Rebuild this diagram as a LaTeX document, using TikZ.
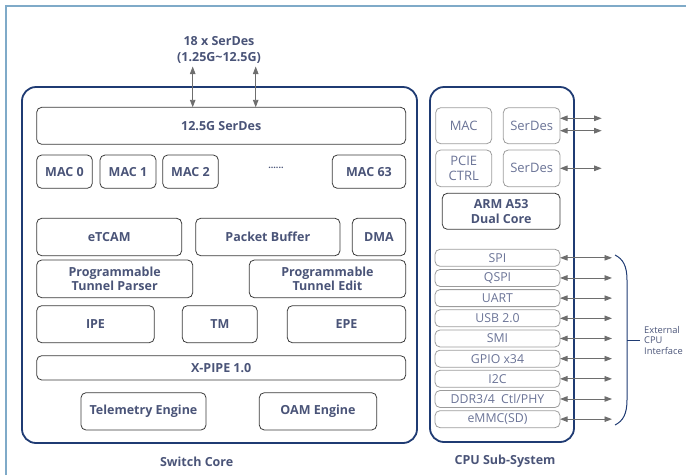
\documentclass[tikz,border=0pt]{standalone}
\usepackage{fontspec}
\setmainfont{Open Sans}
\usetikzlibrary{arrows.meta}
\definecolor{navy}{HTML}{1F3B73}
\definecolor{slate}{HTML}{4A5478}
\definecolor{lslate}{HTML}{6A7396}
\definecolor{dgrey}{HTML}{3A3A3A}
\definecolor{lgrey}{HTML}{9C9C9C}
\definecolor{agrey}{HTML}{6E6E6E}
\definecolor{frameblue}{HTML}{7FAAC8}
\tikzset{
  outerbox/.style={draw=navy, line width=1.8pt, rounded corners=14pt},
  sbox/.style={draw=dgrey, line width=0.8pt, rounded corners=5pt, inner sep=0pt, outer sep=0pt,
     anchor=north west, font=\fontsize{12.5}{14}\selectfont\bfseries, text=slate, align=center},
  cbox/.style={draw=lgrey, line width=0.8pt, rounded corners=5pt, inner sep=0pt, outer sep=0pt,
     anchor=north west, font=\fontsize{13}{14.5}\selectfont, text=lslate, align=center},
  ibox/.style={draw=lgrey, line width=0.8pt, rounded corners=5pt, inner sep=0pt, outer sep=0pt,
     anchor=north west, font=\fontsize{12.3}{13}\selectfont, text=lslate, minimum width=125pt, minimum height=17pt},
  armbox/.style={draw=dgrey, line width=0.8pt, rounded corners=5pt, inner sep=0pt, outer sep=0pt,
     anchor=north west, font=\fontsize{12.5}{14.5}\selectfont\bfseries, text=slate, align=center},
  conn/.style={draw=agrey, line width=0.9pt, {Triangle[length=7.5pt,width=5.5pt]}-{Triangle[length=7.5pt,width=5.5pt]}},
  lbl/.style={font=\fontsize{12.5}{16.5}\selectfont\bfseries, text=slate, align=center},
}
\begin{document}
\begin{tikzpicture}[x=1pt,y=-1pt]
\useasboundingbox (0,0) rectangle (686,475);
% light frame
\draw[frameblue, line width=1.2pt] (6,475) -- (6,6) -- (686,6);
% outer boxes
\draw[outerbox] (22,87) rectangle (417,443);
\draw[outerbox] (430,87) rectangle (574,442);
\node[lbl] (swlbl) at (196.7,461.7) {Switch Core};
\node[lbl] (cpulbl) at (505,461.7) {CPU Sub-System};
% switch core boxes
\node[sbox, minimum width=369pt, minimum height=37pt] (serdes) at (36.7,107.3) {12.5G SerDes};
\node[sbox, minimum width=55.6pt, minimum height=33.3pt] (mac0) at (36.7,155) {MAC 0};
\node[sbox, minimum width=56pt, minimum height=33.3pt] (mac1) at (100,155) {MAC 1};
\node[sbox, minimum width=55.6pt, minimum height=33.3pt] (mac2) at (162.7,155) {MAC 2};
\node[font=\fontsize{9}{10}\selectfont\bfseries, text=slate] (dots) at (276,168) {......};
\node[sbox, minimum width=73.4pt, minimum height=33.3pt] (mac63) at (332.3,155) {MAC 63};
\node[sbox, minimum width=145pt, minimum height=37.4pt] (etcam) at (36.7,218.3) {eTCAM};
\node[sbox, minimum width=144.3pt, minimum height=37.4pt] (pbuf) at (195.7,218.3) {Packet Buffer};
\node[sbox, minimum width=53.4pt, minimum height=37.4pt] (dma) at (352.3,218.3) {DMA};
\node[sbox, minimum width=156pt, minimum height=37.7pt] (tparse) at (36.7,260) {Programmable\\Tunnel Parser};
\node[sbox, minimum width=156.4pt, minimum height=37.7pt] (tedit) at (249.3,260) {Programmable\\Tunnel Edit};
\node[sbox, minimum width=117.6pt, minimum height=37pt] (ipe) at (36.7,305.7) {IPE};
\node[sbox, minimum width=75pt, minimum height=37pt] (tm) at (182.3,305.7) {TM};
\node[sbox, minimum width=118.4pt, minimum height=37pt] (epe) at (287.3,305.7) {EPE};
\node[sbox, minimum width=369pt, minimum height=24.3pt] (xpipe) at (36.7,355.7) {X-PIPE 1.0};
\node[sbox, minimum width=125pt, minimum height=37.3pt] (tele) at (81,392.7) {Telemetry Engine};
\node[sbox, minimum width=117.4pt, minimum height=37.3pt] (oam) at (259.3,392.7) {OAM Engine};
% top serdes arrows
\node[lbl] (toplbl) at (219,50) {18 x SerDes\\(1.25G\textasciitilde12.5G)};
\coordinate (ta) at (192.7,66.5);
\coordinate (tb) at (255.7,66.5);
\draw[conn] (ta) -- (ta |- serdes.north);
\draw[conn] (tb) -- (tb |- serdes.north);
% CPU boxes
\node[cbox, minimum width=56pt, minimum height=36pt] (cmac) at (435.7,107.7) {MAC};
\node[cbox, minimum width=56.7pt, minimum height=36pt] (csd1) at (503.3,107.7) {SerDes};
\node[cbox, minimum width=56pt, minimum height=36.7pt] (pcie) at (435.7,150) {PCIE\\CTRL};
\node[cbox, minimum width=56.7pt, minimum height=36.7pt] (csd2) at (503.3,150) {SerDes};
\node[armbox, minimum width=117.7pt, minimum height=36pt] (arm) at (442.3,193.3) {ARM A53\\Dual Core};
\coordinate (sa) at (601.7,118.3);
\coordinate (sb) at (601.7,130.7);
\coordinate (sc) at (601.7,168.3);
\draw[conn] (csd1.east |- sa) -- (sa);
\draw[conn] (csd1.east |- sb) -- (sb);
\draw[conn] (csd2.east |- sc) -- (sc);
% interface list
\foreach \t [count=\i from 0] in {SPI,QSPI,UART,USB 2.0,SMI,GPIO x34,I2C,DDR3/4\ \ Ctl/PHY,eMMC(SD)}{
  \node[ibox] (if\i) at (435,249.3+\i*20.17) {\t};
  \coordinate (ife\i) at (612,257.8+\i*20.17);
  \draw[conn] (if\i.east) -- (ife\i);
}
% brace
\coordinate (bt) at (615,255);
\coordinate (bb) at (615,425);
\coordinate (bm) at (627,340);
\coordinate (bl) at (640,340);
\draw[navy, line width=1pt] (bt) .. controls (623,259) and (627,266) .. (627,280) -- (627,400) .. controls (627,414) and (623,421) .. (bb);
\draw[navy, line width=1pt] (bm) -- (bl);
\node[anchor=west, align=left, font=\fontsize{9.3}{10.4}\selectfont, text=slate, inner sep=0pt] (ext) at (644,340.5) {External\\CPU\\Interface};
\end{tikzpicture}
\end{document}
